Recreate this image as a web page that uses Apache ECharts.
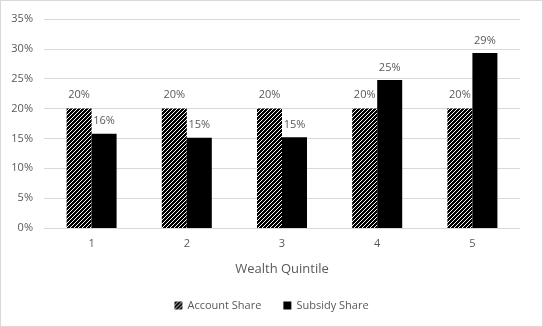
<!DOCTYPE html>
<html>
<head>
<meta charset="utf-8">
<script src="https://cdn.jsdelivr.net/npm/echarts@6/dist/echarts.min.js"></script>
<style>
  html, body { margin: 0; padding: 0; background: #fff; }
  #chart { width: 541px; height: 325px; border: 1px solid #d9d9d9; }
</style>
</head>
<body>
<div id="chart"></div>
<script>
const quintiles = ['1', '2', '3', '4', '5'];
const accountShare = [20, 20, 20, 20, 20];
const subsidyShare = [15.8, 15.1, 15.2, 24.8, 29.3];

// diagonal stripe tile for the account bars
const makeStripes = () => {
    const c = document.createElement('canvas');
    c.width = 4;
    c.height = 4;
    const ctx = c.getContext('2d');
    ctx.fillStyle = '#000';
    ctx.fillRect(0, 0, 4, 4);
    ctx.strokeStyle = '#fff';
    ctx.lineWidth = 1;
    ctx.beginPath();
    ctx.moveTo(0, 4); ctx.lineTo(4, 0);
    ctx.moveTo(-1, 1); ctx.lineTo(1, -1);
    ctx.moveTo(3, 5); ctx.lineTo(5, 3);
    ctx.stroke();
    return c;
};
const stripes = { image: makeStripes(), repeat: 'repeat' };

const textColor = '#595959';
const fontFamily = 'Open Sans';

const chart = echarts.init(document.getElementById('chart'));
chart.setOption({
    animation: false,
    textStyle: { fontFamily: fontFamily },
    grid: { left: 43, right: 22, top: 18, bottom: 98 },
    legend: {
        bottom: 10,
        itemWidth: 8,
        itemHeight: 8,
        itemGap: 22,
        textStyle: { color: textColor, fontSize: 11, fontFamily: fontFamily },
        data: [
            { name: 'Account Share', icon: 'rect' },
            { name: 'Subsidy Share', icon: 'rect' }
        ]
    },
    xAxis: {
        type: 'category',
        data: quintiles,
        name: 'Wealth Quintile',
        nameLocation: 'middle',
        nameGap: 35,
        nameTextStyle: { color: textColor, fontSize: 13 },
        axisLine: { lineStyle: { color: '#d9d9d9' } },
        axisTick: { show: false },
        axisLabel: { color: textColor, fontSize: 11, margin: 10 }
    },
    yAxis: {
        type: 'value',
        min: 0,
        max: 35,
        interval: 5,
        axisLabel: { color: textColor, fontSize: 11, formatter: '{value}%', margin: 11 },
        splitLine: { lineStyle: { color: '#d9d9d9' } }
    },
    series: [
        {
            name: 'Account Share',
            type: 'bar',
            data: accountShare,
            barWidth: 25,
            barGap: '0%',
            itemStyle: { color: stripes },
            label: {
                show: true,
                position: 'top',
                distance: 8,
                color: textColor,
                fontSize: 11,
                formatter: (p) => Math.round(p.value) + '%'
            }
        },
        {
            name: 'Subsidy Share',
            type: 'bar',
            data: subsidyShare,
            barWidth: 25,
            itemStyle: { color: '#000' },
            label: {
                show: true,
                position: 'top',
                distance: 7,
                color: textColor,
                fontSize: 11,
                formatter: (p) => Math.round(p.value) + '%'
            }
        }
    ]
});
</script>
</body>
</html>
